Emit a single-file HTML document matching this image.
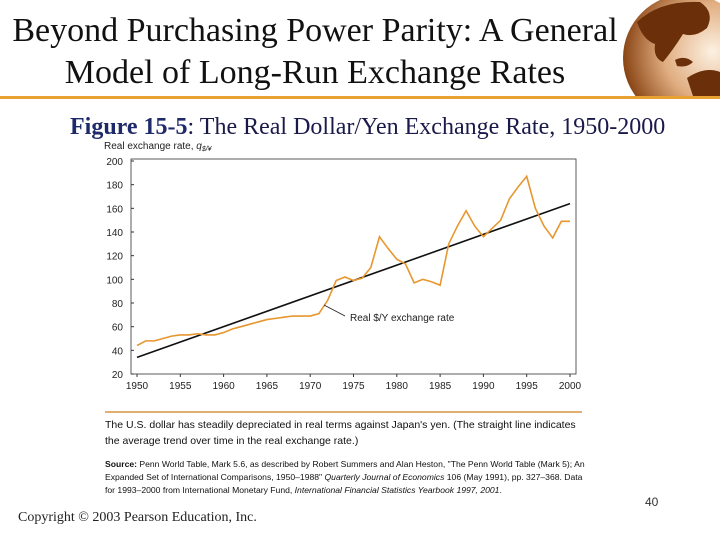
<!DOCTYPE html>
<html><head><meta charset="utf-8"><style>
body{margin:0;width:720px;height:540px;background:#fff;position:relative;overflow:hidden;font-family:"Liberation Serif",serif}
.abs{position:absolute}
</style></head><body>
<div class="abs" style="left:0;top:10px;width:630px;text-align:center;font-size:34px;line-height:42px;color:#111;white-space:nowrap">Beyond Purchasing Power Parity: A General<br>Model of Long-Run Exchange Rates</div>
<svg class="abs" style="left:615px;top:0" width="105" height="96">
<defs><radialGradient id="g" cx="0.7" cy="0.45" r="0.7"><stop offset="0" stop-color="#fdf1e2"/><stop offset="0.55" stop-color="#e0ad80"/><stop offset="1" stop-color="#8a4515"/></radialGradient></defs>
<circle cx="72" cy="58" r="64" fill="url(#g)"/>
<path d="M22 22 Q45 0 85 2 Q100 12 92 28 Q80 38 68 34 Q58 50 48 62 Q38 58 40 44 Q28 40 22 22 Z" fill="#6b2f0a"/>
<path d="M72 78 Q90 66 105 72 L105 96 L78 96 Z" fill="#6b2f0a"/>
<path d="M60 60 Q70 55 78 62 Q72 68 62 66 Z" fill="#6b2f0a"/>
</svg>
<div class="abs" style="left:0;top:96px;width:720px;height:3px;background:#e8a030"></div>
<div class="abs" style="left:70px;top:114px;font-size:24px;color:#1a1a4a;white-space:nowrap"><b style="color:#1f2a6a">Figure 15-5</b>: The Real Dollar/Yen Exchange Rate, 1950-2000</div>
<svg class="abs" style="left:0;top:0" width="720" height="540" id="chart"></svg>
<div class="abs" style="left:105px;top:411px;width:477px;height:2px;background:#e0b070"></div>
<div class="abs" style="left:105px;top:417px;width:480px;font-family:'Liberation Sans',sans-serif;font-size:10.5px;line-height:16px;color:#111">The U.S. dollar has steadily depreciated in real terms against Japan's yen. (The straight line indicates the average trend over time in the real exchange rate.)</div>
<div class="abs" style="left:105px;top:458px;width:480px;font-family:'Liberation Sans',sans-serif;font-size:8.6px;line-height:13px;color:#111"><b>Source:</b> Penn World Table, Mark 5.6, as described by Robert Summers and Alan Heston, "The Penn World Table (Mark 5); An Expanded Set of International Comparisons, 1950–1988" <i>Quarterly Journal of Economics</i> 106 (May 1991), pp. 327–368. Data for 1993–2000 from International Monetary Fund, <i>International Financial Statistics Yearbook 1997, 2001</i>.</div>
<div class="abs" style="left:645px;top:495px;font-family:'Liberation Sans',sans-serif;font-size:12px;color:#333">40</div>
<div class="abs" style="left:18px;top:510px;font-size:14px;color:#222;white-space:nowrap">Copyright © 2003 Pearson Education, Inc.</div>
<script>
const years=[1950,1951,1952,1953,1954,1955,1956,1957,1958,1959,1960,1961,1962,1963,1964,1965,1966,1967,1968,1969,1970,1971,1972,1973,1974,1975,1976,1977,1978,1979,1980,1981,1982,1983,1984,1985,1986,1987,1988,1989,1990,1991,1992,1993,1994,1995,1996,1997,1998,1999,2000];
const rates=[44,48,48,50,52,53,53,54,53,53,55,58,60,62,64,66,67,68,69,69,69,71,82,99,102,99,101,110,136,126,117,113,97,100,98,95,130,145,158,145,136,143,150,168,178,187,160,145,135,149,149];
const trendYears=[1950,2000];
const trendValues=[34,164];
const yTicks=[20,40,60,80,100,120,140,160,180,200];
const xTicks=[1950,1955,1960,1965,1970,1975,1980,1985,1990,1995,2000];
const NS="http://www.w3.org/2000/svg";
const svg=document.getElementById('chart');
const X=v=>137+(v-1950)*(570-137)/50;
const Y=v=>374-(v-20)*(374-161)/180;
function mk(t,a,p){const e=document.createElementNS(NS,t);for(const k in a)e.setAttribute(k,a[k]);(p||svg).appendChild(e);return e;}
const font='font-family:"Liberation Sans",sans-serif;font-size:10px;fill:#222';
let e=mk('rect',{x:131,y:159,width:445,height:215,fill:'none',stroke:'#333','stroke-width':0.8});

yTicks.forEach(v=>{let t=mk('text',{x:123,y:Y(v)+4,'text-anchor':'end',style:font});t.textContent=v;

mk('line',{x1:131,x2:134,y1:Y(v),y2:Y(v),stroke:'#333'});});
xTicks.forEach(v=>{let t=mk('text',{x:X(v),y:389,'text-anchor':'middle',style:font});t.textContent=v;

mk('line',{x1:X(v),x2:X(v),y1:374,y2:377,stroke:'#333'});});
let yt=mk('text',{x:104,y:149,style:font});yt.innerHTML='Real exchange rate, <tspan font-style="italic">q</tspan><tspan font-size="7" font-style="italic" dy="2">$/¥</tspan>';

let tr=mk('line',{x1:X(trendYears[0]),y1:Y(trendValues[0]),x2:X(trendYears[1]),y2:Y(trendValues[1]),stroke:'#111','stroke-width':1.6});

let pl=mk('polyline',{points:years.map((y,i)=>X(y)+','+Y(rates[i])).join(' '),fill:'none',stroke:'#e8962e','stroke-width':1.6});

mk('line',{x1:324,y1:305,x2:345,y2:316,stroke:'#222','stroke-width':0.8});
let lb=mk('text',{x:350,y:321,style:font});lb.textContent='Real $/Y exchange rate';

</script>
</body></html>
